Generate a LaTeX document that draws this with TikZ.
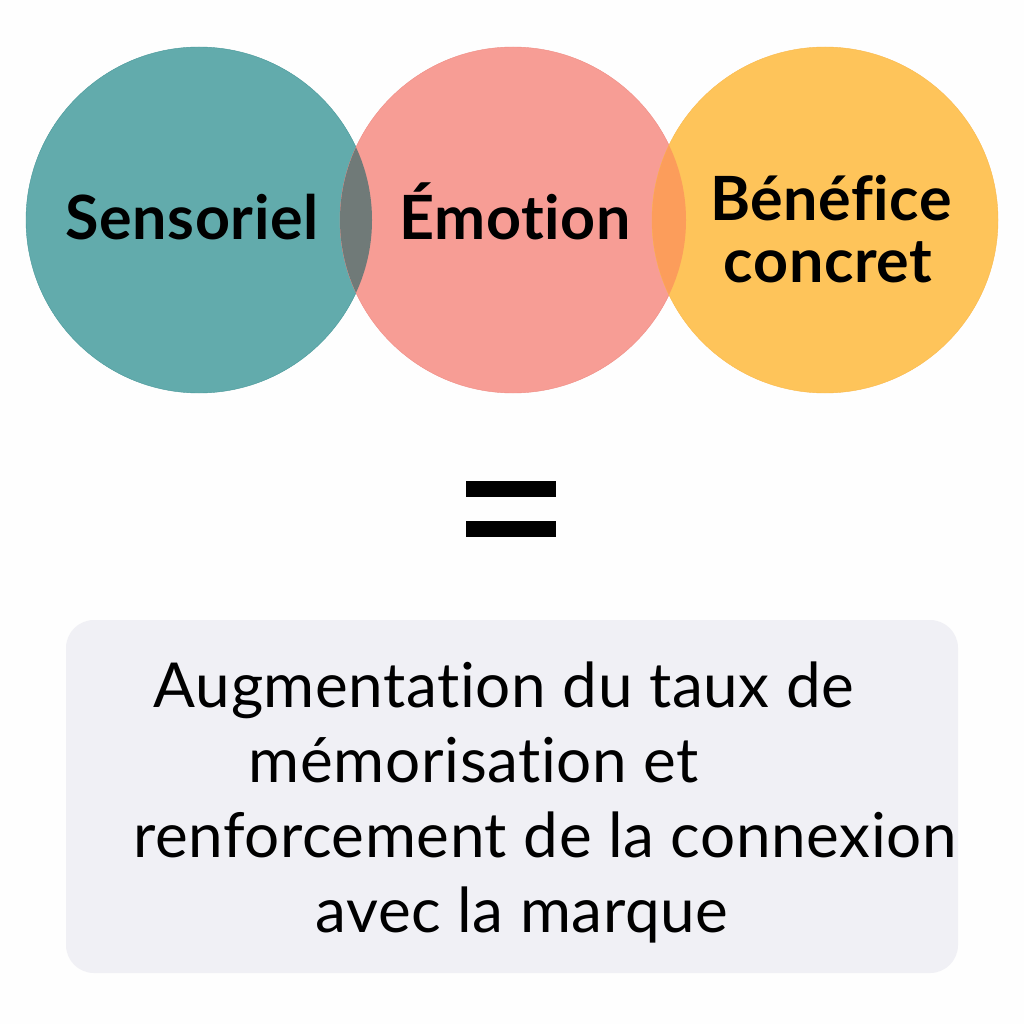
\documentclass[tikz,border=0pt]{standalone}
\usepackage{fontspec}
\setmainfont[Ligatures=NoCommon,LetterSpace=1]{Lato}
\tikzset{
 circ/.style={circle,minimum size=#1,inner sep=0pt,draw opacity=1},
 lab/.style={font=\fontsize{61}{62}\selectfont\bfseries,text=black,align=center,inner sep=0pt},
 big/.style={font=\fontsize{62}{62}\selectfont,text=black,inner sep=0pt,anchor=base}
}
\begin{document}
\begin{tikzpicture}[x=1pt,y=-1pt]
\useasboundingbox (0,0) rectangle (1024,1024);
\fill[fill=white!99!gray] (0,0) rectangle (1024,1024);
\node[circ=346pt,fill={rgb,255:red,98;green,171;blue,172},draw={rgb,255:red,72;green,152;blue,154}] (a) at (199,220) {};
\node[circ=346pt,fill={rgb,255:red,247;green,157;blue,149},draw={rgb,255:red,240;green,140;blue,132},fill opacity=1] (b) at (513,220) {};
\node[circ=346pt,fill={rgb,255:red,254;green,196;blue,90},draw={rgb,255:red,250;green,185;blue,75}] (c) at (825,220) {};
\begin{scope}
\clip (199,220) circle (173);
\fill[fill={rgb,255:red,112;green,122;blue,120}] (513,220) circle (173);
\end{scope}
\begin{scope}
\clip (513,220) circle (173);
\fill[fill={rgb,255:red,252;green,157;blue,91}] (825,220) circle (173);
\end{scope}
\node[lab,anchor=base] (t1) at (192,240) {Sensoriel};
\node[lab,anchor=base] (t2) at (515,240) {Émotion};
\node[lab,anchor=base] (t3) at (831,221) {Bénéfice};
\node[lab,anchor=base] (t4) at (828,282) {concret};
\fill[black] (466,481) rectangle (556,497);
\fill[black] (466,521) rectangle (556,537);
\fill[fill={rgb,255:red,240;green,240;blue,245},rounded corners=28] (66,620) rectangle (958,973);
\node[big] (l1) at (504,707) {Augmentation du taux de};
\node[big] (l2) at (474,782) {mémorisation et};
\node[big] (l3) at (545,857) {renforcement de la connexion};
\node[big] (l4) at (522,932) {avec la marque};
\end{tikzpicture}
\end{document}
